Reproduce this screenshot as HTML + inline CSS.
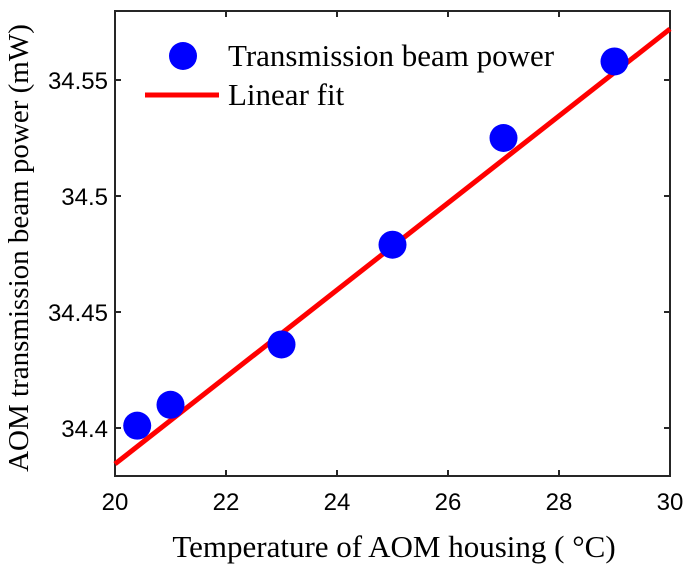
<!DOCTYPE html>
<html><head><meta charset="utf-8"><style>
html,body{margin:0;padding:0;background:#fff;}
svg{display:block;}
</style></head><body>
<svg id="chart" width="685" height="564" xmlns="http://www.w3.org/2000/svg">
<g id="g"></g>
</svg>
<script>
const xTicks=[20,22,24,26,28,30];
const yTicks=[34.4,34.45,34.5,34.55];
const yTickLabels=["34.4","34.45","34.5","34.55"];
const temps=[20.4,21,23,25,27,29];
const powers=[34.401,34.410,34.436,34.479,34.525,34.558];
const fitX=[20,30];
const fitY=[34.3845,34.572];
const L=115,R=670,T=11,B=476;
const sx=v=>L+(v-20)/10*(R-L);
const sy=v=>428-(v-34.4)*2320;
const NS='http://www.w3.org/2000/svg';
const g=document.getElementById('g');
function mk(t,a,txt){const e=document.createElementNS(NS,t);for(const k in a)e.setAttribute(k,a[k]);if(txt!==undefined)e.textContent=txt;g.appendChild(e);return e;}
let e=mk('rect',{x:L,y:T,width:R-L,height:B-T,fill:'none',stroke:'#262626','stroke-width':2});


xTicks.forEach(v=>{const x=sx(v);
 let t=mk('line',{x1:x,x2:x,y1:B,y2:B-6,stroke:'#262626','stroke-width':2});
 
 
 let t2=mk('line',{x1:x,x2:x,y1:T,y2:T+6,stroke:'#262626','stroke-width':2});
 
 
 let l=mk('text',{x:x,y:B+34,'text-anchor':'middle','font-family':'Liberation Sans, sans-serif','font-size':24,fill:'#000'},String(v));
 
 
});
yTicks.forEach((v,i)=>{const y=sy(v);
 let t=mk('line',{x1:L,x2:L+6,y1:y,y2:y,stroke:'#262626','stroke-width':2});
 
 
 let t2=mk('line',{x1:R,x2:R-6,y1:y,y2:y,stroke:'#262626','stroke-width':2});
 
 
 let l=mk('text',{x:L-7,y:y+9,'text-anchor':'end','font-family':'Liberation Sans, sans-serif','font-size':24,fill:'#000'},yTickLabels[i]);
 
 
});
let f=mk('line',{x1:sx(fitX[0]),y1:sy(fitY[0]),x2:sx(fitX[1]),y2:sy(fitY[1]),stroke:'#ff0000','stroke-width':5});


temps.forEach((v,i)=>{
 let c=mk('circle',{cx:sx(v),cy:sy(powers[i]),r:14,fill:'#0000ff'});
 
 
});
let lm=mk('circle',{cx:183,cy:56,r:14,fill:'#0000ff'});


let lt=mk('text',{x:228,y:66,'font-family':'Liberation Serif, serif','font-size':31,fill:'#000'},'Transmission beam power');


let ll=mk('line',{x1:145,x2:219,y1:95,y2:95,stroke:'#ff0000','stroke-width':5});


let lt2=mk('text',{x:228,y:105,'font-family':'Liberation Serif, serif','font-size':31,fill:'#000'},'Linear fit');


let xt=mk('text',{x:394,y:557,'text-anchor':'middle','font-family':'Liberation Serif, serif','font-size':31,fill:'#000'},'Temperature of AOM housing (\u00A0\u00B0C)');


let yt=mk('text',{x:0,y:0,transform:'translate(28,248) rotate(-90)','text-anchor':'middle','font-family':'Liberation Serif, serif','font-size':29,fill:'#000'},'AOM transmission beam power (mW)');


</script>
</body></html>
